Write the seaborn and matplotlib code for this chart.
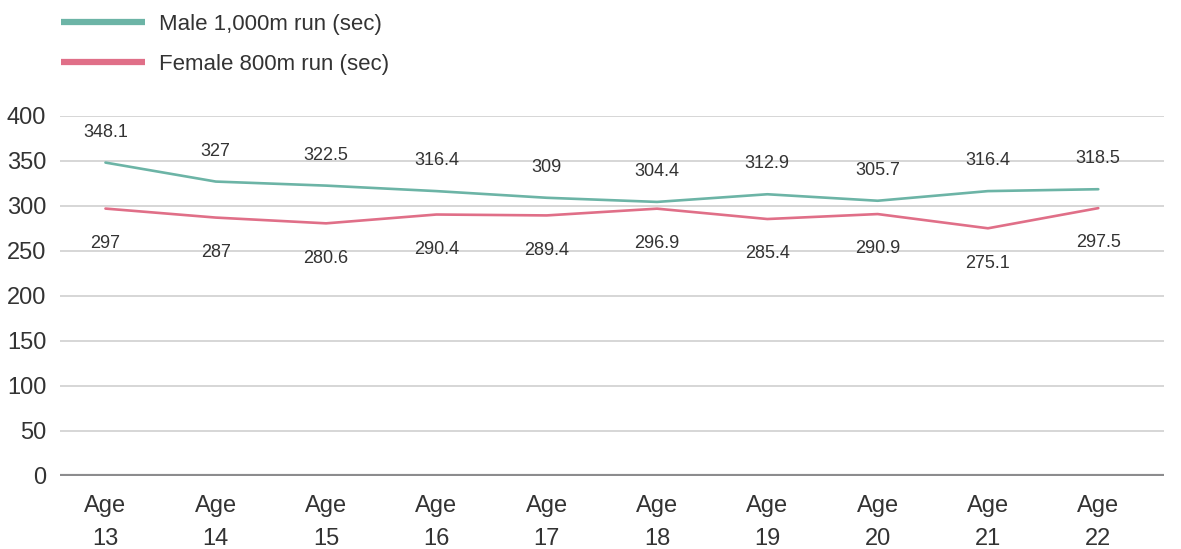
import numpy as np
import pandas as pd
import matplotlib.pyplot as plt
import seaborn as sns

ages = ["Age\n13", "Age\n14", "Age\n15", "Age\n16", "Age\n17",
        "Age\n18", "Age\n19", "Age\n20", "Age\n21", "Age\n22"]
male_1000m = [348.1, 327, 322.5, 316.4, 309, 304.4, 312.9, 305.7, 316.4, 318.5]
female_800m = [297, 287, 280.6, 290.4, 289.4, 296.9, 285.4, 290.9, 275.1, 297.5]
series_names = ["Male 1,000m run (sec)", "Female 800m run (sec)"]
colors = ["#6cb4a6", "#e06f88"]

df = pd.DataFrame({
    "age": list(range(len(ages))) * 2,
    "value": male_1000m + female_800m,
    "series": [series_names[0]] * len(ages) + [series_names[1]] * len(ages),
})

sns.set_style("white")
plt.rcParams['font.family'] = ['Liberation Sans', 'DejaVu Sans']

fig = plt.figure(figsize=(11.81, 5.49), dpi=100)
ax = fig.add_axes([0.051, 0.133, 0.935, 0.656])

sns.lineplot(data=df, x="age", y="value", hue="series", palette=colors,
             linewidth=1.9, ax=ax, legend=False)

# value labels: male above, female below
for i, v in enumerate(male_1000m):
    ax.annotate(f"{v:g}", (i, v), xytext=(0, 22), textcoords="offset points",
                ha="center", va="center", fontsize=13, color="#333333")
for i, v in enumerate(female_800m):
    ax.annotate(f"{v:g}", (i, v), xytext=(0, -25), textcoords="offset points",
                ha="center", va="center", fontsize=13, color="#333333")

ax.set_ylim(0, 400)
ax.set_xlim(-0.41, 9.6)
ax.set_yticks(np.arange(0, 401, 50))
ax.set_xticks(range(len(ages)))
ax.set_xticklabels(ages, fontsize=17, color="#333333", linespacing=1.6)
ax.tick_params(axis="y", labelsize=17, labelcolor="#333333", pad=10, length=0)
ax.tick_params(axis="x", pad=14, length=0)
ax.set_xlabel("")
ax.set_ylabel("")
ax.grid(axis="y", color="#d3d3d3", linewidth=1.3)
ax.set_axisbelow(True)
for s in ax.spines.values():
    s.set_visible(False)
ax.axhline(0, color="#8c8c8e", linewidth=3, zorder=3)

handles = [plt.Line2D([], [], color=c, linewidth=4.5, solid_capstyle="butt")
           for c in colors]
fig.legend(handles, series_names, loc="upper left", bbox_to_anchor=(0.035, 1.011),
           frameon=False, fontsize=16, handlelength=3.75, handletextpad=0.65,
           labelspacing=0.86, labelcolor="#333333")

fig.savefig("out.png", dpi=100)
